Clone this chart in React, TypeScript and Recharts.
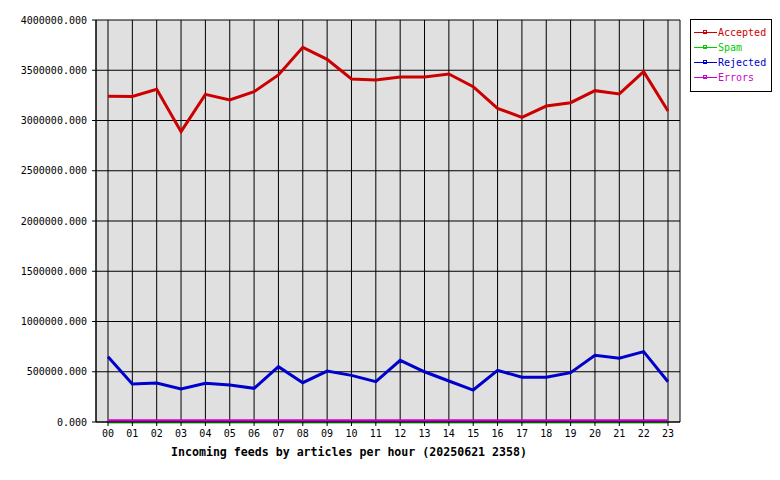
import React from 'react';
import { LineChart, Line, XAxis, YAxis, CartesianGrid } from 'recharts';

const hours = ['00', '01', '02', '03', '04', '05', '06', '07', '08', '09', '10', '11', '12', '13', '14', '15', '16', '17', '18', '19', '20', '21', '22', '23'];

const accepted = [3241000, 3240000, 3310000, 2889000, 3260000, 3204000, 3287000, 3453000, 3728000, 3609000, 3413000, 3403000, 3433000, 3433000, 3463000, 3337000, 3121000, 3032000, 3144000, 3177000, 3297000, 3264000, 3486000, 3095000];
const spam = [0, 0, 0, 0, 0, 0, 0, 0, 0, 0, 0, 0, 0, 0, 0, 0, 0, 0, 0, 0, 0, 0, 0, 0];
const rejected = [650000, 378000, 388000, 328000, 385000, 368000, 335000, 550000, 391000, 507000, 464000, 401000, 614000, 500000, 408000, 318000, 514000, 445000, 445000, 491000, 664000, 634000, 700000, 401000];
const errors = [12000, 12000, 12000, 12000, 12000, 12000, 12000, 12000, 12000, 12000, 12000, 12000, 12000, 12000, 12000, 12000, 12000, 12000, 12000, 12000, 12000, 12000, 12000, 12000];

const yTicks = [0, 500000, 1000000, 1500000, 2000000, 2500000, 3000000, 3500000, 4000000];

const series = [
  { key: 'accepted', name: 'Accepted', color: '#cc0000' },
  { key: 'spam', name: 'Spam', color: '#00cc00' },
  { key: 'rejected', name: 'Rejected', color: '#0000cc' },
  { key: 'errors', name: 'Errors', color: '#cc00cc' },
];

const data = hours.map((h, i) => ({
  hour: h,
  accepted: accepted[i],
  spam: spam[i],
  rejected: rejected[i],
  errors: errors[i],
}));

const mono = 'DejaVu Sans Mono, monospace';

export default function App() {
  return (
    <div style={{ position: 'absolute', left: 0, top: 0, width: 780, height: 480, background: '#fff' }}>
      <LineChart width={780} height={480} data={data} margin={{ top: 20, right: 100, bottom: 28, left: 0 }}>
        <CartesianGrid stroke="#000" strokeOpacity={1} fill="#e0e0e0" fillOpacity={1} />
        <XAxis
          dataKey="hour"
          height={30}
          interval={0}
          padding={{ left: 12, right: 12 }}
          axisLine={{ stroke: '#000' }}
          tickLine={{ stroke: '#000' }}
          tickSize={4}
          tickMargin={4}
          tick={{ fill: '#000', fontSize: 10, fontFamily: mono }}
          label={{
            value: 'Incoming feeds by articles per hour (20250621 2358)',
            position: 'insideBottomLeft',
            content: () => (
              <text x={171} y={456} fontFamily={mono} fontWeight="bold" fontSize={11.6} fill="#000">
                Incoming feeds by articles per hour (20250621 2358)
              </text>
            ),
          }}
        />
        <YAxis
          width={96}
          domain={[0, 4000000]}
          ticks={yTicks}
          interval={0}
          axisLine={{ stroke: '#000' }}
          tickLine={{ stroke: '#000' }}
          tickSize={4}
          tickMargin={5}
          tickFormatter={(v: number) => v.toFixed(3)}
          tick={{ fill: '#000', fontSize: 10, fontFamily: mono }}
        />
        <YAxis
          yAxisId="r"
          orientation="right"
          width={0}
          domain={[0, 4000000]}
          tick={false}
          tickLine={false}
          axisLine={{ stroke: '#000' }}
        />
        {series.map((s) => (
          <Line
            key={s.key}
            dataKey={s.key}
            name={s.name}
            stroke={s.color}
            strokeWidth={3}
            dot={false}
            type="linear"
            isAnimationActive={false}
          />
        ))}
      </LineChart>
      <div
        style={{
          position: 'absolute',
          left: 690,
          top: 19,
          width: 80,
          height: 71,
          border: '1px solid #000',
          background: '#fff',
        }}
      >
        <svg width={80} height={71}>
          {series.map((s, i) => {
            const y = 12.5 + i * 15;
            return (
              <g key={s.key}>
                <line x1={3} x2={26} y1={y} y2={y} stroke={s.color} strokeWidth={1} />
                <rect x={12.5} y={y - 2} width={3} height={3} fill="none" stroke={s.color} strokeWidth={1} />
                <text x={27} y={y + 3.5} fontFamily={mono} fontSize={10} fill={s.color}>
                  {s.name}
                </text>
              </g>
            );
          })}
        </svg>
      </div>
    </div>
  );
}
